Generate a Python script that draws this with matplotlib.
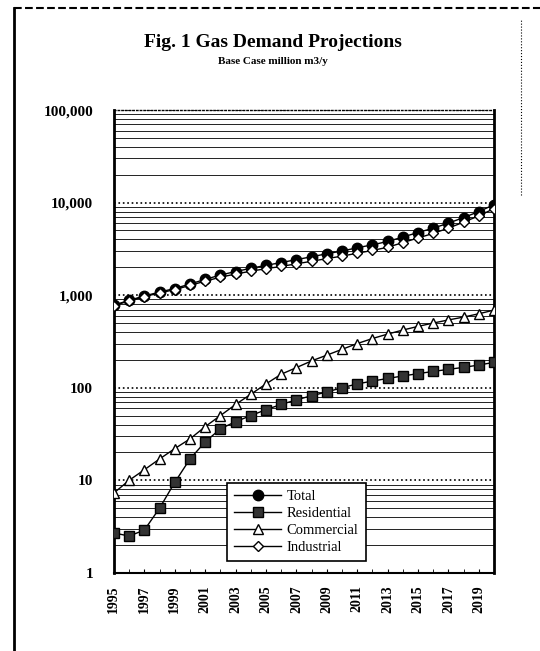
import numpy as np
import matplotlib.pyplot as plt
from matplotlib.ticker import FixedLocator, NullFormatter

plt.rcParams['font.family'] = ['Liberation Serif', 'DejaVu Serif']

years = list(range(1995, 2021))
total = [780, 880, 980, 1080, 1180, 1320, 1480, 1650, 1800, 1950, 2100, 2250,
         2420, 2600, 2800, 3000, 3250, 3500, 3800, 4250, 4750, 5300, 6000, 6900,
         8000, 9500]
residential = [2.7, 2.5, 2.9, 5, 9.5, 17, 26, 36, 43, 50, 58, 66, 74, 82, 90,
               100, 110, 118, 126, 134, 142, 150, 158, 166, 176, 188]
commercial = [7.3, 10, 13, 17, 22, 28, 38, 50, 66, 85, 110, 140, 165, 195, 225,
              260, 300, 340, 380, 420, 460, 500, 540, 580, 630, 690]
industrial = [t - r - c for t, r, c in zip(total, residential, commercial)]

fig = plt.figure(figsize=(5.4, 6.51), dpi=100)
ax = fig.add_axes([0.211, 0.12, 0.704, 0.711])

ax.plot(years, total, '-o', color='black', lw=1, ms=7.5, mfc='black', label='Total', zorder=4)
ax.plot(years, residential, '-s', color='black', lw=1, ms=6.5, mfc='#333333', label='Residential', zorder=4)
ax.plot(years, commercial, '-^', color='black', lw=1, ms=6.5, mfc='white', label='Commercial', zorder=4)
ax.plot(years, industrial, '-D', color='black', lw=1, ms=5.5, mfc='white', label='Industrial', zorder=5)

ax.set_yscale('log')
ax.set_ylim(1, 100000)
ax.set_xlim(1995, 2020)
ax.set_yticks([1, 10, 100, 1000, 10000, 100000])
ax.set_yticklabels(['1', '10', '100', '1,000', '10,000', '100,000'],
                   fontsize=11, fontweight='bold')
ax.yaxis.set_minor_formatter(NullFormatter())
ax.set_xticks(range(1995, 2020, 2))
ax.set_xticklabels([str(y) for y in range(1995, 2020, 2)], rotation=90,
                   fontsize=10, fontweight='bold')
ax.xaxis.set_minor_locator(FixedLocator(years))
ax.tick_params(axis='x', which='both', direction='in', length=3, pad=9)
ax.tick_params(axis='y', which='both', length=0, pad=15)

ax.grid(True, which='major', axis='y', color='black', ls=':', lw=1.2)
ax.grid(True, which='minor', axis='y', color='#222222', ls='-', lw=0.7)

for s in ['left', 'right']:
    ax.spines[s].set_linewidth(2)
ax.spines['bottom'].set_linewidth(1.5)
ax.spines['top'].set_linewidth(1)
ax.spines['top'].set_linestyle(':')

leg = ax.legend(loc='lower center', bbox_to_anchor=(0.48, 0.025), fontsize=10.5,
                frameon=True, fancybox=False, edgecolor='black', framealpha=1,
                handlelength=3.2, borderpad=0.5, labelspacing=0.25,
                borderaxespad=0, handletextpad=0.4)
leg.get_frame().set_linewidth(1.2)

fig.text(0.505, 0.928, 'Fig. 1 Gas Demand Projections', ha='center',
         fontsize=14, fontweight='bold')
fig.text(0.505, 0.902, 'Base Case million m3/y', ha='center',
         fontsize=8, fontweight='bold')

# page border
fig.add_artist(plt.Line2D([0.026, 0.026], [0.0, 0.988], transform=fig.transFigure,
                          color='black', lw=2))
fig.add_artist(plt.Line2D([0.026, 1.0], [0.988, 0.988], transform=fig.transFigure,
                          color='black', lw=1.5, ls='--'))
fig.add_artist(plt.Line2D([0.965, 0.965], [0.7, 0.97], transform=fig.transFigure,
                          color='black', lw=0.8, ls=':'))

fig.savefig('out.png', dpi=100)
